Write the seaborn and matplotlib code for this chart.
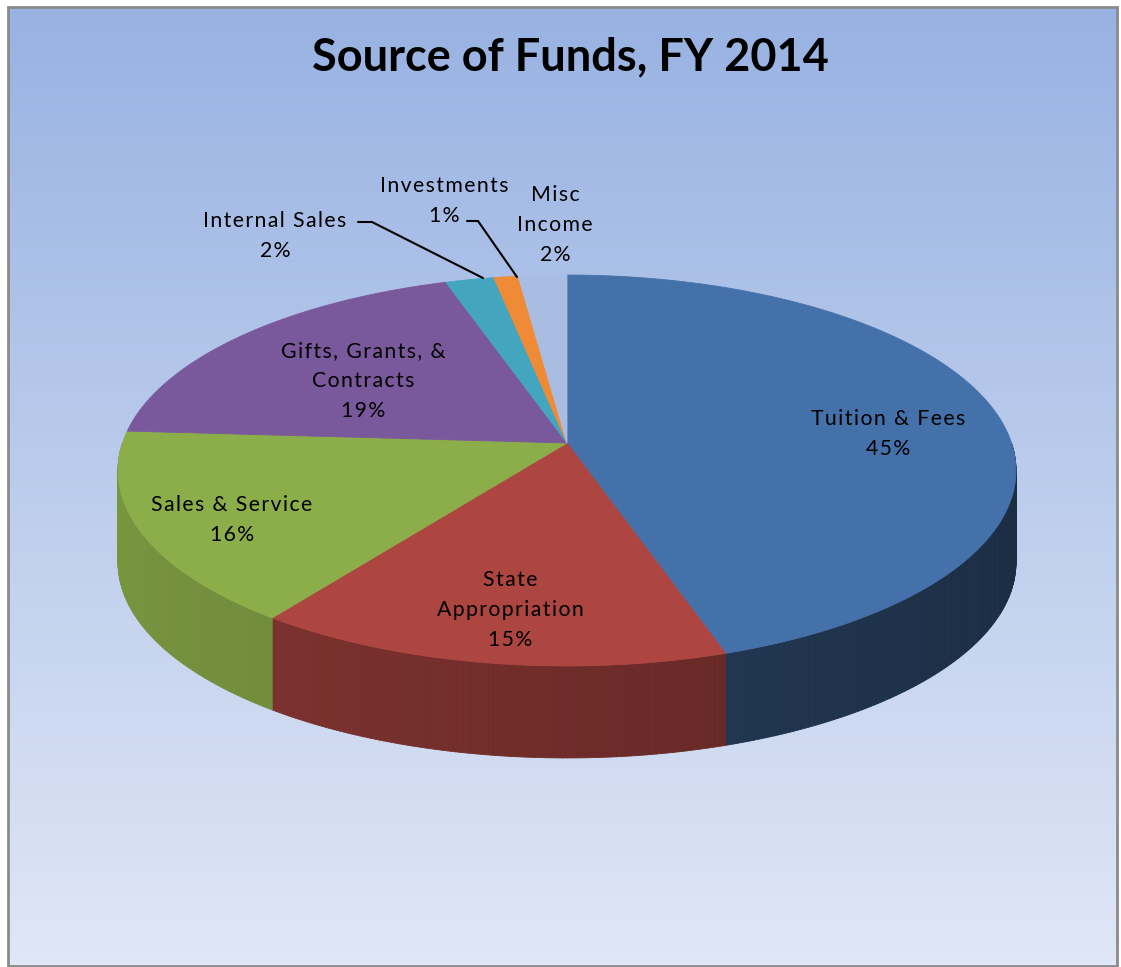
import numpy as np
import matplotlib
matplotlib.use("Agg")
import matplotlib.pyplot as plt
import seaborn as sns
from matplotlib.patches import Polygon, Rectangle
from matplotlib.collections import PolyCollection

# ---------------- data ----------------
categories = ["Tuition & Fees", "State\nAppropriation", "Sales & Service",
              "Gifts, Grants, &\nContracts", "Internal Sales", "Investments",
              "Misc\nIncome"]
shares = [45, 15, 16, 19, 2, 1, 2]
slice_hex = ["#4571AA", "#AD4541", "#8CAE4A", "#79599B", "#44A5BF", "#EF8A36", "#A9BDE2"]
title = "Source of Funds, FY 2014"

# ---------------- style ----------------
sns.set_style("white")
plt.rcParams['font.family'] = ['Lato', 'DejaVu Sans']
colors = sns.color_palette(slice_hex)

W, H = 1121, 967
fig = plt.figure(figsize=(W / 100, H / 100), dpi=100)
ax = fig.add_axes([0, 0, 1, 1])
ax.set_xlim(0, W)
ax.set_ylim(H, 0)
ax.axis('off')

# background gradient inside frame
top_c = np.array([152, 178, 226]) / 255
bot_c = np.array([224, 231, 246]) / 255
t = np.linspace(0, 1, 256)[:, None]
grad = (top_c[None, :] * (1 - t) + bot_c[None, :] * t)[:, None, :]
ax.imshow(grad, extent=(8, 1117, 966, 7), aspect='auto', origin='upper', zorder=0)
ax.add_patch(Rectangle((8, 7), 1109, 959, fill=False, edgecolor='#8a8a8a', lw=2, zorder=1))

# ---------------- 3D pie geometry ----------------
cx, cy = 567, 443
a, b, k = 444.5, 191.6, 0.1406
depth = 92


def proj(theta_deg, drop=0.0):
    th = np.radians(theta_deg)
    u, v = np.cos(th), np.sin(th)
    s = 1 + k * v
    return cx + a * u / s, cy - b * v / s + drop


fracs = np.array(shares, dtype=float) / np.sum(shares)
bounds = 90 - 360 * np.concatenate([[0], np.cumsum(fracs)])

# side faces (front half only)
for i, col in enumerate(colors):
    t0, t1 = bounds[i + 1], bounds[i]  # t0 < t1
    lo, hi = max(t0, -180), min(t1, 0)
    if hi <= lo:
        continue
    u_mid = np.cos(np.radians(0.5 * (lo + hi)))
    base = 0.62 - 0.25 * u_mid
    ths = np.linspace(lo, hi, max(int((hi - lo) * 2), 2) + 1)
    quads, fcs = [], []
    for j in range(len(ths) - 1):
        x0, y0 = proj(ths[j])
        x1, y1 = proj(ths[j + 1])
        quads.append([(x0, y0), (x1, y1), (x1, y1 + depth), (x0, y0 + depth)])
        um = np.cos(np.radians(0.5 * (ths[j] + ths[j + 1])))
        f = np.clip(base - 0.12 * (um - u_mid), 0.36, 0.9)
        c = tuple(np.array(col) * f)
        fcs.append(c)
    pc = PolyCollection(quads, facecolors=fcs, edgecolors=fcs, linewidths=0.6, zorder=2)
    ax.add_collection(pc)

# top faces
for i, col in enumerate(colors):
    ths = np.linspace(bounds[i], bounds[i + 1], 200)
    xs, ys = proj(ths)
    pts = [(cx, cy)] + list(zip(xs, ys))
    ax.add_patch(Polygon(pts, closed=True, facecolor=col, edgecolor=col, lw=0.6, zorder=3))


# ---------------- labels ----------------
def tracked(s):
    return "\n".join("\u200a".join(line) for line in s.split("\n"))


label_xy = [(888, 434), (510, 610), (232, 520), (363, 381), (275, 236), (444, 201), (555, 225)]
for cat, sh, (lx, ly) in zip(categories, shares, label_xy):
    ax.text(lx, ly, tracked(f"{cat}\n{sh}%"), ha='center', va='center', fontsize=15.3,
            linespacing=1.62, color='black', zorder=5)

# leader lines
ax.plot([358, 372, 483], [222, 222, 278], color='black', lw=1.5, zorder=4)
ax.plot([467, 478, 517], [221, 221, 277], color='black', lw=1.5, zorder=4)

ax.text(570, 57, title, ha='center', va='center', fontsize=32.5, fontweight='bold',
        color='black', zorder=5)

fig.savefig("out.png", dpi=100)
